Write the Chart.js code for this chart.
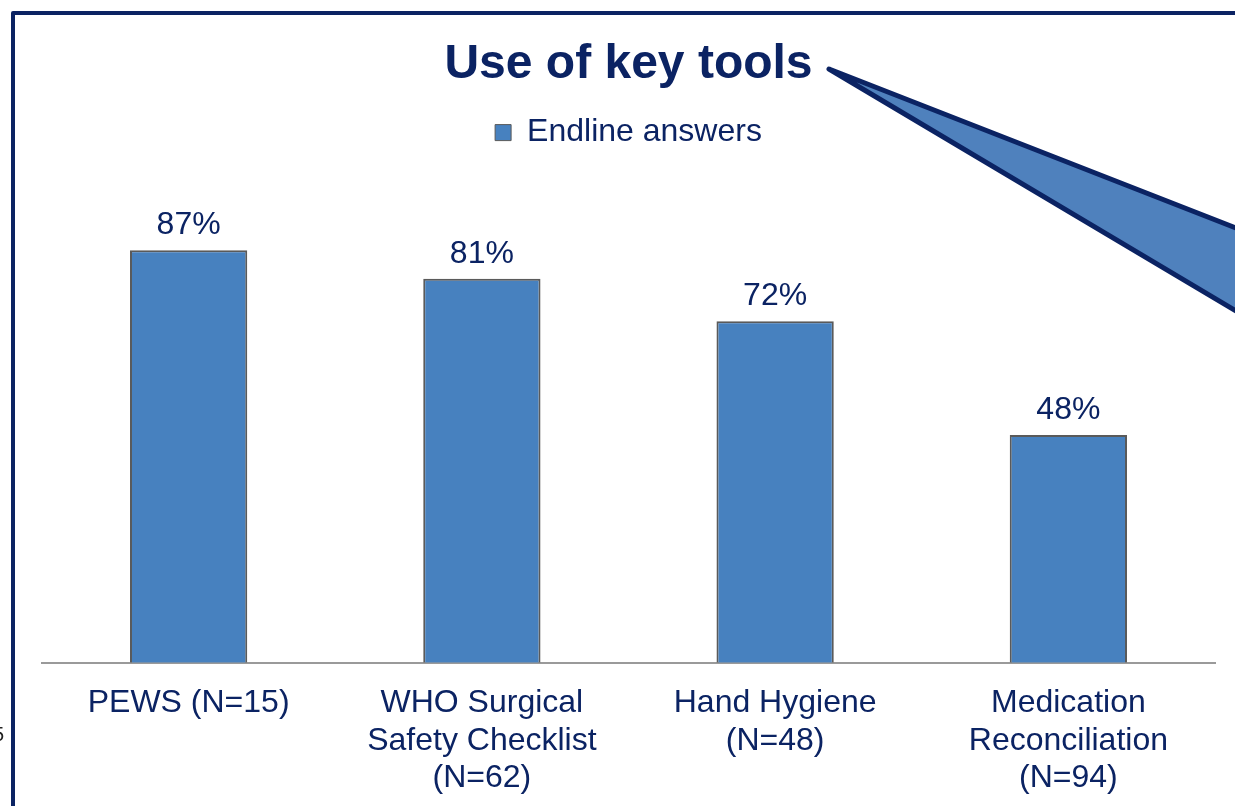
<!DOCTYPE html>
<html>
<head>
<meta charset="utf-8">
<script src="https://cdn.jsdelivr.net/npm/chart.js@4.4.1/dist/chart.umd.min.js"></script>
<style>
  html, body { margin: 0; padding: 0; background: #fff; }
  #wrap { width: 1235px; height: 806px; }
</style>
</head>
<body>
<div id="wrap"><canvas id="keyToolsChart" width="1235" height="806"></canvas></div>
<script>
const categories = [
  'PEWS (N=15)',
  ['WHO Surgical', 'Safety Checklist', '(N=62)'],
  ['Hand Hygiene', '(N=48)'],
  ['Medication', 'Reconciliation', '(N=94)']
];
const endlineValues = [87, 81, 72, 48];
const seriesName = 'Endline answers';

const navy = '#0b2363';
const barBlue = '#4781bf';
const fontFam = '"Liberation Sans", Arial, sans-serif';

// frame + callout shape from the slide
const slideDecor = {
  id: 'slideDecor',
  afterDraw(chart) {
    const c = chart.ctx;
    c.save();
    c.strokeStyle = navy;
    c.lineWidth = 4;
    c.lineJoin = 'round';
    c.beginPath();
    c.moveTo(13, 900);
    c.lineTo(13, 13);
    c.lineTo(1300, 13);
    c.stroke();

    c.beginPath();
    c.moveTo(829, 69);
    c.lineTo(1300, 253);
    c.lineTo(1300, 349);
    c.closePath();
    c.fillStyle = '#4f81bd';
    c.fill();
    c.lineWidth = 5;
    c.stroke();

    c.fillStyle = '#222';
    c.font = '20px ' + fontFam;
    c.textAlign = 'right';
    c.textBaseline = 'middle';
    c.fillText('5', 4, 735);
    c.restore();
  }
};

// value labels above the bars
const valueLabels = {
  id: 'valueLabels',
  afterDatasetsDraw(chart) {
    const c = chart.ctx;
    c.save();
    c.fillStyle = navy;
    c.font = '32px ' + fontFam;
    c.textAlign = 'center';
    c.textBaseline = 'alphabetic';
    chart.getDatasetMeta(0).data.forEach((bar, i) => {
      c.fillText(endlineValues[i] + '%', bar.x, bar.y - 16);
    });
    c.restore();
  }
};

// extra room under the legend
const legendGap = {
  id: 'legendGap',
  beforeInit(chart) {
    const fit = chart.legend.fit;
    chart.legend.fit = function () {
      fit.bind(chart.legend)();
      this.height += 30;
    };
  }
};

const ctx = document.getElementById('keyToolsChart').getContext('2d');
const keyToolsChart = new Chart(ctx, {
  type: 'bar',
  data: {
    labels: categories,
    datasets: [{
      label: seriesName,
      data: endlineValues,
      backgroundColor: barBlue,
      borderColor: '#5a5a5a',
      borderWidth: 2,
      barPercentage: 0.4,
      categoryPercentage: 1
    }]
  },
  options: {
    responsive: false,
    animation: false,
    layout: {
      padding: { left: 42, right: 20, top: 36, bottom: -5 }
    },
    scales: {
      x: {
        grid: { display: false },
        border: { display: true, color: '#9a9a9a', width: 2 },
        ticks: {
          color: navy,
          padding: 14,
          maxRotation: 0,
          autoSkip: false,
          font: { family: fontFam, size: 32, lineHeight: 1.17 }
        }
      },
      y: {
        display: false,
        min: 0,
        max: 100
      }
    },
    plugins: {
      title: {
        display: true,
        text: 'Use of key tools',
        color: navy,
        font: { family: fontFam, size: 48, weight: 'bold' },
        padding: { top: 0, bottom: 13 }
      },
      legend: {
        position: 'top',
        labels: {
          color: navy,
          boxWidth: 16,
          boxHeight: 16,
          padding: 10,
          font: { family: fontFam, size: 32 },
          generateLabels(chart) {
            return [{
              text: seriesName,
              fillStyle: barBlue,
              strokeStyle: '#5a5a5a',
              lineWidth: 1,
              fontColor: navy,
              datasetIndex: 0
            }];
          }
        }
      },
      tooltip: { enabled: false }
    }
  },
  plugins: [slideDecor, valueLabels, legendGap]
});
</script>
</body>
</html>
